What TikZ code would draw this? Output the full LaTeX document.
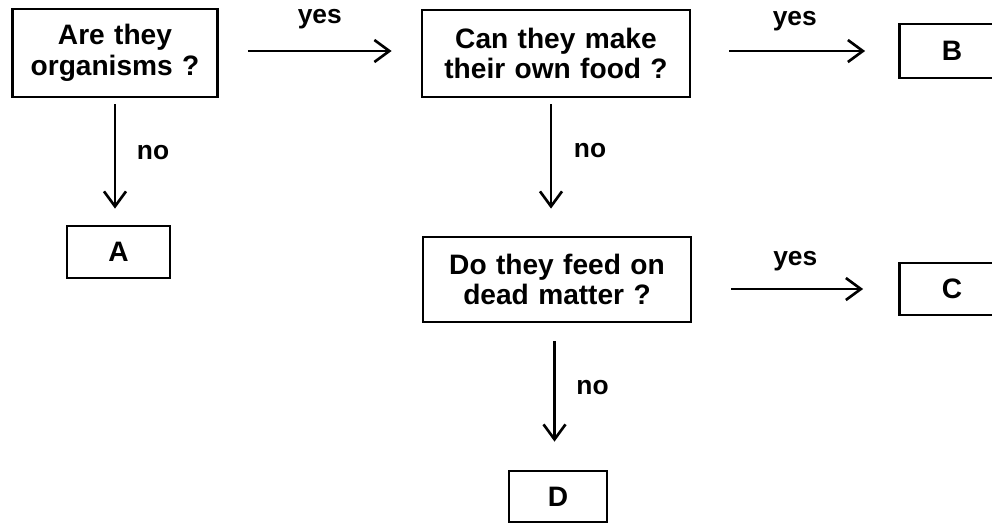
\documentclass[tikz,border=0pt]{standalone}
\usepackage{fontspec}
\setmainfont{Liberation Sans}
\usetikzlibrary{arrows.meta, positioning, calc}

\begin{document}
\begin{tikzpicture}[
  qbox/.style={rectangle, draw=black, line width=1.6pt, minimum height=1.74cm, text width=5.2cm, align=center, font=\fontsize{16}{17.5}\selectfont\bfseries, inner sep=0pt},
  lbox/.style={rectangle, draw=black, line width=1.6pt, minimum width=1.96cm, minimum height=1.04cm, align=center, font=\fontsize{16}{17.5}\selectfont\bfseries},
  arr/.style={-{Straight Barb[length=3mm, width=4.4mm]}, line width=1.5pt},
  lbl/.style={font=\fontsize{15}{17}\selectfont\bfseries}
]
\useasboundingbox (0,0) rectangle (19.84,-10.5);
% Questions
\node[qbox, text width=4.1cm, minimum height=1.76cm] (organisms) at (2.3,-1.06) {Are they\\organisms ?};
\node[qbox, minimum width=5.36cm] (food) at (11.12,-1.07) {Can they make\\their own food ?};
\node[qbox, minimum width=5.36cm, minimum height=1.7cm] (dead) at (11.14,-5.59) {Do they feed on\\dead matter ?};
% Answers
\node[lbox, minimum width=2.06cm] (A) at (2.37,-5.04) {A};
\node[lbox, minimum width=2.1cm, minimum height=1.08cm] (B) at (19.04,-1.02) {B};
\node[lbox, minimum width=2.1cm] (C) at (19.04,-5.78) {C};
\node[lbox, minimum height=1.02cm] (D) at (11.16,-9.93) {D};
% Arrows
\draw[arr, shorten <=0.58cm, shorten >=0.58cm] (organisms.east |- B.west) -- node[lbl, yshift=0.64cm]{yes} (food.west |- B.west);
\draw[arr, shorten <=0.76cm, shorten >=0.66cm] (food.east |- B.west) -- node[lbl, yshift=0.6cm]{yes} (B.west);
\draw[arr, shorten <=0.78cm, shorten >=0.7cm] (dead.east |- C.west) -- node[lbl, yshift=0.55cm]{yes} (C.west);
\draw[arr, shorten <=0.12cm, shorten >=0.32cm] (organisms.south) -- node[lbl, pos=0.43, xshift=0.76cm]{no} (organisms.south |- A.north);
\draw[arr, shorten <=0.12cm, shorten >=0.54cm] ([xshift=-0.1cm]food.south) -- node[lbl, pos=0.38, xshift=0.78cm]{no} ([xshift=-0.1cm]food.south |- dead.north);
\draw[arr, shorten <=0.36cm, shorten >=0.56cm] ([xshift=-0.05cm]dead.south) -- node[lbl, pos=0.44, xshift=0.76cm]{no} ([xshift=-0.05cm]dead.south |- D.north);
\end{tikzpicture}
\end{document}
